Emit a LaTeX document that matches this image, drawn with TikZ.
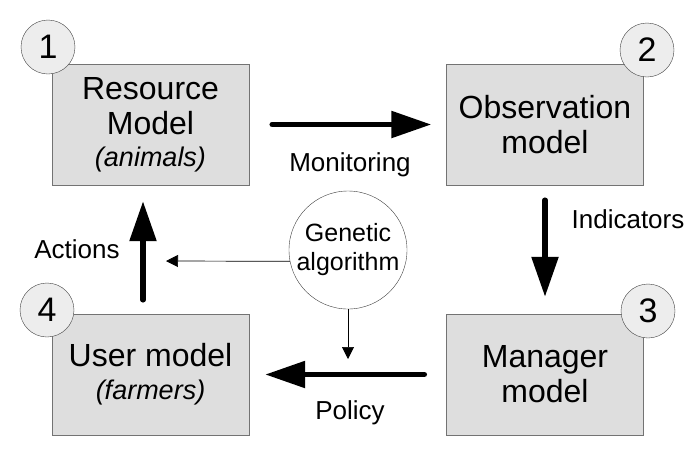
\documentclass[tikz,border=0pt]{standalone}
\usepackage{fontspec}
\setmainfont{Liberation Sans}
\usetikzlibrary{arrows.meta}

\tikzset{
  box/.style={draw=black!55, fill=black!13, minimum width=197pt, minimum height=121pt,
    align=center, font=\fontsize{32}{35}\selectfont},
  num/.style={circle, draw=black!75, fill=black!7, minimum size=54pt, inner sep=0pt,
    font=\fontsize{34}{34}\selectfont},
  bigarrow/.style={line width=5.5pt, line cap=round, -{Triangle[length=40pt,width=26pt]}},
  thinarrow/.style={line width=0.7pt, -{Triangle[length=12pt,width=12pt]}},
  lbl/.style={font=\fontsize{26}{26}\selectfont}
}

\begin{document}
\begin{tikzpicture}[x=1pt,y=-1pt]
  \useasboundingbox (0,0) rectangle (699,467);
  \node[box] (res) at (150.5,124.5) {Resource\\Model\\[-3pt]{\itshape\fontsize{27}{30}\selectfont(animals)}};
  \node[box] (obs) at (545,124.5) {Observation\\model};
  \node[box] (man) at (545,374.5) {Manager\\model};
  \node[box] (usr) at (150.5,374.5) {User model\\[-2pt]{\itshape\fontsize{27}{30}\selectfont(farmers)}};
  \node[num] (n1) at (48,47) {1};
  \node[num] (n2) at (647,50) {2};
  \node[num] (n3) at (648,311) {3};
  \node[num] (n4) at (47,310) {4};
  \node[circle, draw=black!75, fill=white, minimum size=118pt, inner sep=0pt, align=center,
    font=\fontsize{25}{29}\selectfont] (ga) at (348,250) {Genetic\\algorithm};
  \coordinate (actl) at (166,261);
  \coordinate (poltop) at (348,359);
  \draw[bigarrow, shorten <=23pt, shorten >=15pt] (res) -- (obs);
  \draw[bigarrow, shorten <=15pt, shorten >=17pt] (obs) -- (man);
  \draw[bigarrow, shorten <=22pt, shorten >=16pt] (man) -- (usr);
  \draw[bigarrow, shorten <=14pt, shorten >=16pt] ([xshift=-7.5pt]usr.north) -- ([xshift=-7.5pt]res.south);
  \draw[thinarrow] (ga.191) -- (actl);
  \draw[thinarrow] (ga.south) -- (poltop);
  \node[lbl] (mon) at (350,165) {Monitoring};
  \node[lbl] (ind) at (628,219) {Indicators};
  \node[lbl] (pol) at (350,413) {Policy};
  \node[lbl] (act) at (77,249) {Actions};
\end{tikzpicture}
\end{document}
